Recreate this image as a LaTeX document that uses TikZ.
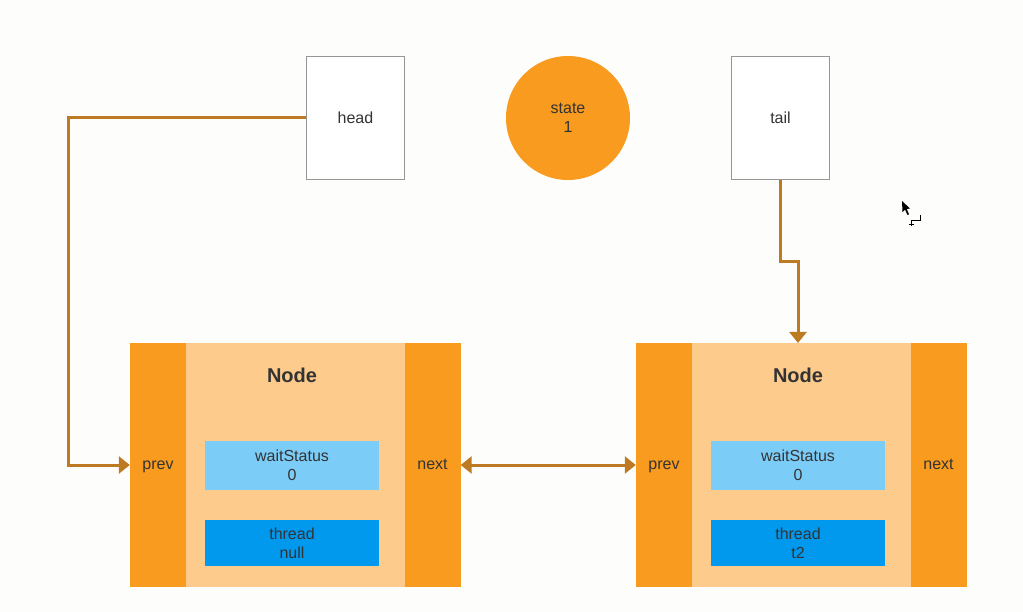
\documentclass[tikz,border=0pt]{standalone}
\usepackage{fontspec}
\setmainfont{Liberation Sans}
\usetikzlibrary{arrows.meta}

\definecolor{bgcol}{RGB}{253,254,252}
\definecolor{nodeorange}{RGB}{248,155,30}
\definecolor{nodelight}{RGB}{253,203,140}
\definecolor{statusblue}{RGB}{124,204,248}
\definecolor{threadblue}{RGB}{0,153,238}
\definecolor{linkcol}{RGB}{190,122,34}
\definecolor{boxgray}{RGB}{150,150,150}
\definecolor{txt}{RGB}{51,51,51}

\tikzset{
  lbl/.style={font=\fontsize{16}{19}\selectfont, text=txt, align=center},
  ptrbox/.style={lbl, draw=boxgray, line width=1.4pt, fill=white,
    minimum width=98pt, minimum height=123pt, inner sep=0pt},
  statecirc/.style={lbl, circle, fill=nodeorange, minimum size=124pt, inner sep=0pt},
  sidecol/.style={lbl, fill=nodeorange, minimum width=56pt, minimum height=244pt,
    inner sep=0pt, text height=11.5pt, text depth=3.5pt},
  bodycol/.style={fill=nodelight, minimum width=219pt, minimum height=244pt, inner sep=0pt},
  title/.style={font=\fontsize{20}{24}\selectfont\bfseries, text=txt},
  statusbox/.style={lbl, fill=statusblue, minimum width=174pt, minimum height=49pt, inner sep=0pt},
  threadbox/.style={lbl, fill=threadblue, minimum width=174pt, minimum height=46pt, inner sep=0pt},
  link/.style={draw=linkcol, line width=3pt, line join=miter},
  tip/.style={-{Triangle[length=11pt,width=17pt]}},
  tips/.style={{Triangle[length=11pt,width=17pt]}-{Triangle[length=11pt,width=17pt]}}
}

\begin{document}
\begin{tikzpicture}[x=1pt,y=-1pt]
  \fill[bgcol] (0,0) rectangle (1023,612);
  \useasboundingbox (0,0) rectangle (1023,612);

  % pointer fields and state
  \node[ptrbox] (head) at (355.5,118) {head};
  \node[statecirc] (state) at (568,118) {state\\1};
  \node[ptrbox] (tail) at (780.5,118) {tail};

  % first queue node
  \node[bodycol] (n1body) at (295.5,465) {};
  \node[sidecol] (n1prev) at (158,465) {prev};
  \node[sidecol] (n1next) at (432.5,465) {next};
  \node[title] (n1title) at (292,375) {Node};
  \node[statusbox] (n1status) at (292,465.5) {waitStatus\\0};
  \node[threadbox] (n1thread) at (292,543) {thread\\null};

  % second queue node
  \node[bodycol] (n2body) at (801.5,465) {};
  \node[sidecol] (n2prev) at (664,465) {prev};
  \node[sidecol] (n2next) at (938.5,465) {next};
  \node[title] (n2title) at (798,375) {Node};
  \node[statusbox] (n2status) at (798,465.5) {waitStatus\\0};
  \node[threadbox] (n2thread) at (798,543) {thread\\t2};

  % links
  \coordinate (hbend) at (68,118);
  \coordinate (tbend) at (798,262);
  \coordinate (n2top) at (798,343);
  \draw[link, tip] (head.west) -- (hbend) |- (n1prev.west);
  \draw[link, tip] (tail.south) |- (tbend) -- (n2top);
  \draw[link, tips] (n1next.east) -- (n2prev.west);

  % mouse pointer
  \fill[black] (902,201) -- (902.5,212) -- (905,209.5) -- (907.5,215) -- (909,214.3)
    -- (906.8,209) -- (910,208.5) -- cycle;
  \draw[black, line width=1pt] (920,215.5) -- (920,221) -- (911,221) -- (911,226);
  \draw[black, line width=1pt] (908.5,224.5) -- (913.5,224.5);
\end{tikzpicture}
\end{document}
